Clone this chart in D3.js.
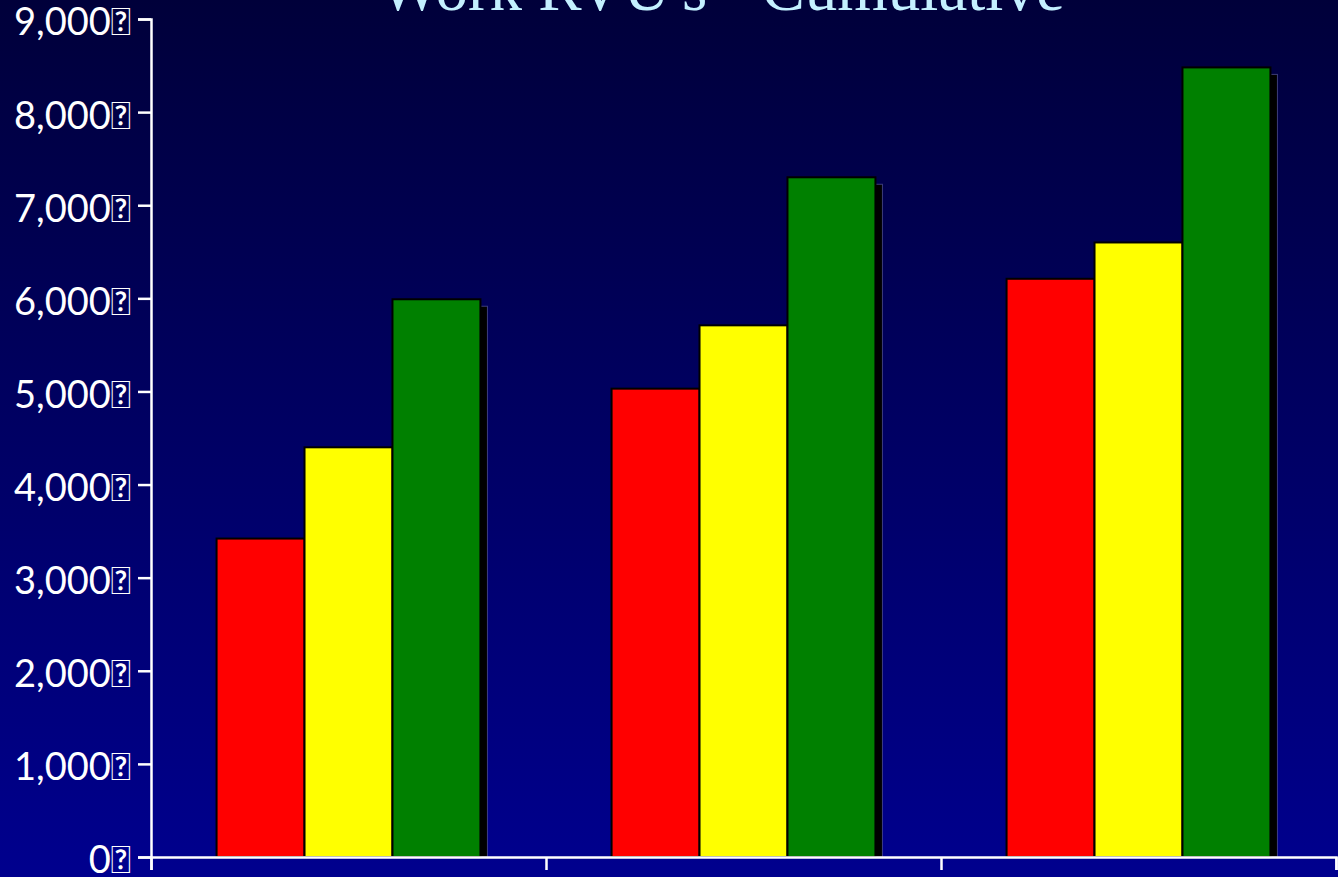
<!DOCTYPE html>
<html>
<head>
<meta charset="utf-8">
<script src="https://cdn.jsdelivr.net/npm/d3@7"></script>
<style>
  html, body { margin: 0; padding: 0; background: #000060; }
  svg { display: block; }
</style>
</head>
<body>
<svg id="chart" width="1338" height="877"></svg>
<script>
// Cumulative work RVU totals: three periods, three series each
const categories = ["Period 1", "Period 2", "Period 3"];
const seriesNames = ["Series A", "Series B", "Series C"];
const seriesColors = ["#ff0000", "#ffff00", "#008000"];
const valuesA = [3420, 5030, 6210];
const valuesB = [4400, 5710, 6600];
const valuesC = [5990, 7300, 8480];
const yTicks = [0, 1000, 2000, 3000, 4000, 5000, 6000, 7000, 8000, 9000];
const titleText = "Work RVU's - Cumulative";

const svg = d3.select("#chart");
const W = 1338, H = 877;

// background gradient
const defs = svg.append("defs");
const grad = defs.append("linearGradient").attr("id", "bg").attr("x1", 0).attr("y1", 0).attr("x2", 0).attr("y2", 1);
grad.append("stop").attr("offset", "0%").attr("stop-color", "#00003a");
grad.append("stop").attr("offset", "100%").attr("stop-color", "#00008e");
svg.append("rect").attr("width", W).attr("height", H).attr("fill", "url(#bg)");

const plot = { left: 151, right: 1336, top: 19, bottom: 857 };

const x = d3.scaleBand().domain(categories).range([plot.left, plot.right])
  .paddingInner(0.332).paddingOuter(0.166);
const xs = d3.scaleBand().domain(seriesNames).range([0, x.bandwidth()]);
const y = d3.scaleLinear().domain([0, 9000]).range([plot.bottom, plot.top]);

const rows = categories.map((c, i) => ({
  cat: c,
  vals: [valuesA[i], valuesB[i], valuesC[i]]
}));

// title (partly above the top edge)
svg.append("text")
  .attr("x", 722).attr("y", 10)
  .attr("text-anchor", "middle")
  .attr("font-family", "'Liberation Serif', 'DejaVu Serif', serif")
  .attr("font-size", 65)
  .attr("fill", "#c4f0ff")
  .text(titleText);

// bars with drop shadow
const groups = svg.append("g").selectAll("g").data(rows).join("g")
  .attr("transform", d => `translate(${x(d.cat)},0)`);

const shadowOff = 7;
groups.selectAll("rect.shadow").data(d => d.vals.map((v, k) => ({ v, k })))
  .join("rect").attr("class", "shadow")
  .attr("x", d => xs(seriesNames[d.k]) + shadowOff)
  .attr("y", d => y(d.v) + shadowOff)
  .attr("width", xs.bandwidth())
  .attr("height", d => Math.max(0, y(0) - y(d.v) - shadowOff))
  .attr("fill", "#000000")
  .attr("stroke", "rgba(110,110,190,0.55)")
  .attr("stroke-width", 1);

groups.selectAll("rect.bar").data(d => d.vals.map((v, k) => ({ v, k })))
  .join("rect").attr("class", "bar")
  .attr("x", d => xs(seriesNames[d.k]))
  .attr("y", d => y(d.v))
  .attr("width", xs.bandwidth())
  .attr("height", d => y(0) - y(d.v))
  .attr("fill", d => seriesColors[d.k])
  .attr("stroke", "#000000")
  .attr("stroke-width", 2);

// y axis
const yAxis = d3.axisLeft(y).tickValues(yTicks).tickSize(13).tickPadding(7)
  .tickFormat(d => d3.format(",")(d) + "\uF0A0");
const gy = svg.append("g").attr("transform", `translate(${plot.left},0)`).call(yAxis);
gy.select(".domain").attr("stroke", "#ffffff").attr("stroke-width", 2.5);
gy.selectAll(".tick line").attr("stroke", "#ffffff").attr("stroke-width", 2.5);
gy.selectAll(".tick text")
  .attr("fill", "#ffffff")
  .attr("font-family", "Lato, 'DejaVu Sans', sans-serif")
  .attr("font-size", 38)
  .attr("dy", "0.42em");

// x axis: boundary ticks between categories, no labels
const xb = d3.scaleLinear().domain([0, 3]).range([plot.left, plot.right]);
const xAxis = d3.axisBottom(xb).tickValues([0, 1, 2, 3]).tickSize(13).tickFormat(() => "");
const gx = svg.append("g").attr("transform", `translate(0,${plot.bottom})`).call(xAxis);
gx.select(".domain").attr("stroke", "#ffffff").attr("stroke-width", 2.5);
gx.selectAll(".tick line").attr("stroke", "#ffffff").attr("stroke-width", 2.5);
</script>
</body>
</html>
